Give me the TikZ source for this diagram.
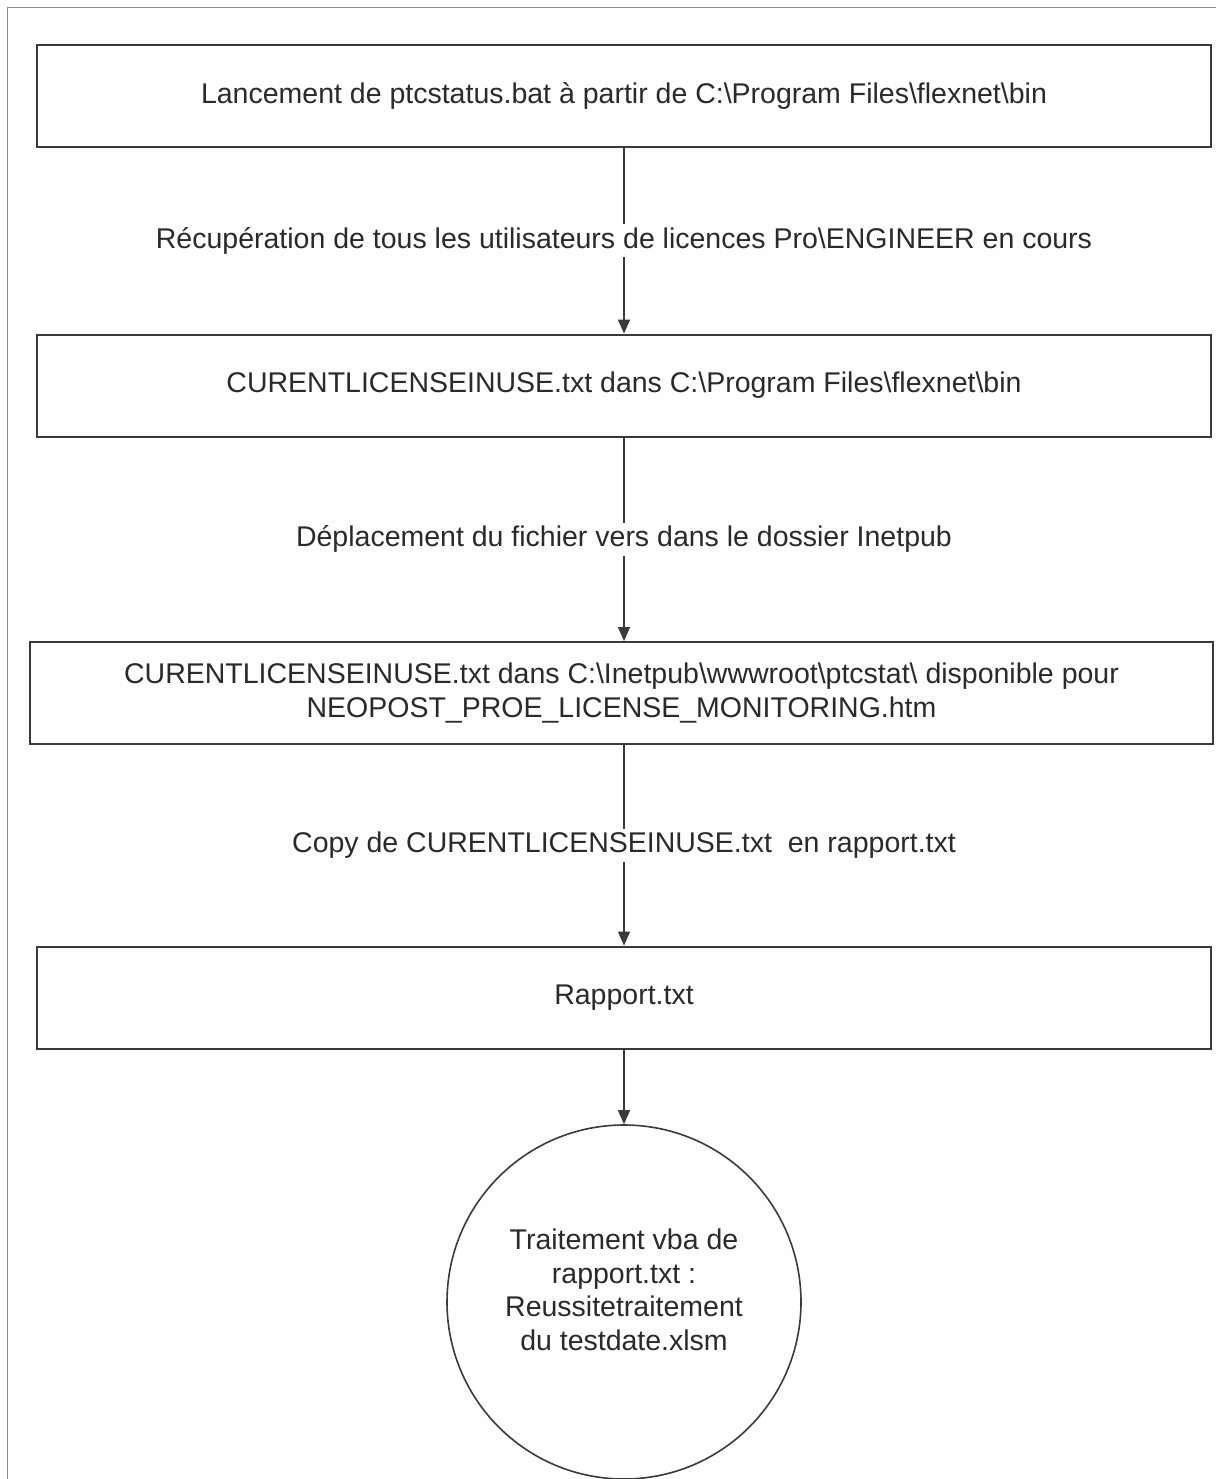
\documentclass[tikz,border=0pt]{standalone}
\usepackage{fontspec}
\setmainfont{Liberation Sans}
\usetikzlibrary{arrows.meta}
\definecolor{boxline}{HTML}{3A3A3A}
\definecolor{conn}{HTML}{3A3A3A}
\definecolor{frame}{HTML}{8A8A8A}
\definecolor{txt}{HTML}{2A2A2A}
\tikzset{
  stepbox/.style={draw=boxline, line width=2pt, rectangle, inner sep=0pt,
    minimum width=1174pt, minimum height=102pt, align=center, text=txt,
    font=\fontsize{28.5}{34}\selectfont},
  circbox/.style={draw=boxline, line width=1.6pt, circle, inner sep=0pt,
    minimum size=354pt},
  conntext/.style={fill=white, inner sep=3pt, text=txt,
    font=\fontsize{28.5}{34}\selectfont},
  connector/.style={draw=conn, line width=1.4pt,
    -{Triangle[width=12pt,length=14pt]}},
}
\begin{document}
\begin{tikzpicture}[x=1pt,y=-1pt]
\useasboundingbox (0,0) rectangle (1216,1479);
\fill[white] (0,0) rectangle (1216,1479);
% outer frame (cropped)
\draw[frame, line width=1.2pt] (7.5,1479) -- (7.5,7.5) -- (1216,7.5);

\node[stepbox] (b1) at (624,96) {Lancement de ptcstatus.bat à partir de C:\textbackslash Program Files\textbackslash flexnet\textbackslash bin};
\node[stepbox] (b2) at (624,385.5) {CURENTLICENSEINUSE.txt dans C:\textbackslash Program Files\textbackslash flexnet\textbackslash bin};
\node[stepbox, minimum width=1183pt] (b3) at (621.5,693) {CURENTLICENSEINUSE.txt dans C:\textbackslash Inetpub\textbackslash wwwroot\textbackslash ptcstat\textbackslash{} disponible pour\\NEOPOST\_PROE\_LICENSE\_MONITORING.htm};
\node[stepbox] (b4) at (624,997.5) {Rapport.txt};
\node[circbox] (c) at (624,1302) {};
\node[align=center, text=txt, font=\fontsize{28.5}{33.5}\selectfont] (ct) at (624,1290) {Traitement vba de\\rapport.txt :\\Reussitetraitement\\du testdate.xlsm};

\draw[connector] (b1.south -| c.north) -- node[conntext, midway] (l1) {Récupération de tous les utilisateurs de licences Pro\textbackslash ENGINEER en cours} (b2.north -| c.north);
\draw[connector] (b2.south -| c.north) -- node[conntext, midway] (l2) {Déplacement du fichier vers dans le dossier Inetpub} (b3.north -| c.north);
\draw[connector] (b3.south -| c.north) -- node[conntext, midway] (l3) {Copy de CURENTLICENSEINUSE.txt \ en rapport.txt} (b4.north -| c.north);
\draw[connector] (b4.south -| c.north) -- (c.north);
\end{tikzpicture}
\end{document}
